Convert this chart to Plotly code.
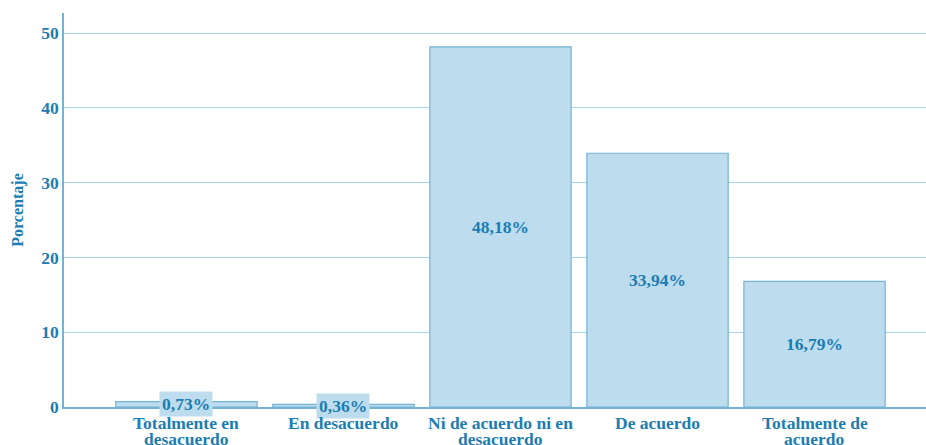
import plotly.graph_objects as go

categories = ["Totalmente en<br>desacuerdo", "En desacuerdo", "Ni de acuerdo ni en<br>desacuerdo",
              "De acuerdo", "Totalmente de<br>acuerdo"]
values = [0.73, 0.36, 48.18, 33.94, 16.79]
labels = ["0,73%", "0,36%", "48,18%", "33,94%", "16,79%"]
y_ticks = [0, 10, 20, 30, 40, 50]

TXT = "#1b7db3"
FILL = "#bddced"
LINE = "#74b3d3"
GRID = "#a9d3e8"
FONT = "Liberation Serif"
FS = 17.5

big = [v >= 5 for v in values]
fig = go.Figure(go.Bar(
    x=list(range(len(categories))), y=values,
    marker=dict(color=FILL, line=dict(color=LINE, width=1.2)),
    text=[l if b else "" for l, b in zip(labels, big)],
    textposition="inside", insidetextanchor="middle",
    textfont=dict(family=FONT, size=FS, color=TXT, weight="bold"),
    hoverinfo="skip",
))

for i, (v, l, b) in enumerate(zip(values, labels, big)):
    if not b:
        fig.add_annotation(x=i, y=v / 2, text=l, showarrow=False,
                           font=dict(family=FONT, size=FS, color=TXT, weight="bold"),
                           bgcolor=FILL, borderpad=2, yanchor="middle")

# category labels, one line each, with tight line spacing
for i, c in enumerate(categories):
    for j, line in enumerate(c.split("<br>")):
        fig.add_annotation(x=i, xref="x", y=0, yref="paper", text=line, showarrow=False,
                           font=dict(family=FONT, size=FS, color=TXT, weight="bold"),
                           yanchor="middle", yshift=-16 - 16 * j)

fig.update_layout(
    width=926, height=445,
    margin=dict(l=64, r=0, t=13, b=38),
    paper_bgcolor="white", plot_bgcolor="white",
    bargap=0.1, showlegend=False,
    font=dict(family=FONT, color=TXT, weight="bold"),
)
fig.update_xaxes(
    range=[-0.78, 4.71], tickmode="array", tickvals=list(range(len(categories))),
    showticklabels=False,
    showgrid=False, showline=True, linecolor=LINE, linewidth=1.5, ticks="", zeroline=False,
    automargin=False,
)
fig.update_yaxes(
    range=[0, 52.7], tickvals=y_ticks,
    tickfont=dict(family=FONT, size=FS, color=TXT, weight="bold"),
    showgrid=True, gridcolor=GRID, gridwidth=1, showline=True, linecolor=LINE, linewidth=1.5,
    zeroline=False, ticks="", automargin=False,
    title=dict(text="Porcentaje", font=dict(family=FONT, size=16, color=TXT, weight="bold"), standoff=14),
)
fig.write_html("out.html")
